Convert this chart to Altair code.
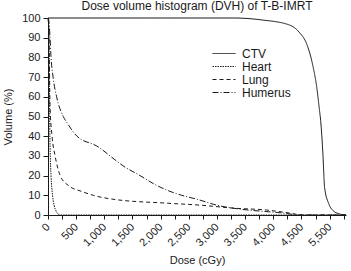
import altair as alt
import pandas as pd

# Dose-volume histogram curves: dose in cGy, volume in %
organs = ["CTV", "Heart", "Lung", "Humerus"]

ctv_dose = [0, 3300, 3800, 4290, 4470, 4590, 4700, 4770, 4820, 4840, 4880, 4910, 4980, 5050, 5180, 5290]
ctv_vol = [100, 100, 99, 96.4, 92.4, 87, 76, 65, 53, 48, 31, 14, 6, 2.5, 0.5, 0]

heart_dose = [0, 14, 27, 36, 54, 81, 108, 144, 180, 217, 5290]
heart_vol = [100, 95, 60, 35, 20, 10, 5, 2, 0.5, 0, 0]

lung_dose = [0, 18, 36, 72, 126, 217, 361, 596, 803, 1155, 2112, 2698, 3285, 3881, 4287, 4513, 5290]
lung_vol = [100, 90, 55, 40, 30, 20, 15, 12, 10, 8, 6, 5, 3.5, 2.5, 1, 0, 0]

humerus_dose = [0, 18, 36, 54, 90, 153, 271, 334, 514, 866, 921, 1101, 1331, 1634, 1931,
                2166, 2374, 2644, 2996, 3402, 3759, 4170, 4467, 5290]
humerus_vol = [100, 98, 90, 80, 70, 60, 50, 47, 40, 35, 34, 30, 25, 20, 15,
               12, 10, 8, 5, 3, 2, 1, 0, 0]

# Axis ticks: minor every 250, labelled every 500
x_ticks = list(range(0, 5291, 250))
x_label_values = [0, 500, 1000, 1500, 2000, 2500, 3000, 3500, 4000, 4500, 5000]
x_label_texts = ["0", "500", "1,000", "1,500", "2,000", "2,500", "3,000",
                 "3,500", "4,000", "4,500", "5,500"]
y_ticks = list(range(0, 101, 10))

rows = []
for name, doses, vols in [("CTV", ctv_dose, ctv_vol), ("Heart", heart_dose, heart_vol),
                          ("Lung", lung_dose, lung_vol), ("Humerus", humerus_dose, humerus_vol)]:
    for d, v in zip(doses, vols):
        rows.append({"organ": name, "dose": d, "volume": v})
df = pd.DataFrame(rows)

label_map = "{" + ", ".join(f"'{v}': '{t}'" for v, t in zip(x_label_values, x_label_texts)) + "}"
x_label_expr = f"{label_map}[datum.value] || ''"

FONT = "Liberation Sans"
INK = "#1a1a1a"

chart = alt.Chart(df).mark_line(strokeWidth=1, color=INK, interpolate="monotone").encode(
    x=alt.X("dose:Q",
            scale=alt.Scale(domain=[0, 5290], nice=False, zero=False),
            axis=alt.Axis(title="Dose (cGy)", values=x_ticks, labelExpr=x_label_expr,
                          labelAngle=315, labelAlign="right", labelBaseline="middle",
                          labelOverlap=False, labelFlush=False,
                          labelPadding=6, tickSize=4, titlePadding=7, grid=False)),
    y=alt.Y("volume:Q",
            scale=alt.Scale(domain=[0, 100], nice=False),
            axis=alt.Axis(title="Volume (%)", values=y_ticks, tickSize=5, labelPadding=3,
                          titlePadding=8, grid=False)),
    strokeDash=alt.StrokeDash("organ:N",
                              scale=alt.Scale(domain=organs,
                                              range=[[1, 0], [1.5, 1], [4, 3], [6, 2, 1, 2]]),
                              legend=alt.Legend(title=None, orient="none", legendX=164, legendY=29,
                                                symbolType="stroke", symbolSize=529,
                                                symbolStrokeWidth=1, symbolStrokeColor=INK,
                                                labelFontSize=12, labelFont=FONT, labelColor=INK,
                                                clipHeight=13, rowPadding=0, labelOffset=6)),
).properties(
    width=298,
    height=197,
    title=alt.TitleParams("Dose volume histogram (DVH) of T-B-IMRT", font=FONT, fontSize=12,
                          fontWeight="normal", color=INK, offset=-10, baseline="alphabetic",
                          frame="group"),
    autosize=alt.AutoSizeParams(type="none"),
    padding={"left": 48, "top": 18, "right": 5, "bottom": 56},
).configure_view(stroke=None).configure_axis(
    labelFont=FONT, labelFontSize=11, labelColor=INK,
    titleFont=FONT, titleFontSize=11, titleFontWeight="normal", titleColor=INK,
    domainColor=INK, tickColor=INK,
)

chart.save("out.html", embed_options={"renderer": "svg", "actions": False})
